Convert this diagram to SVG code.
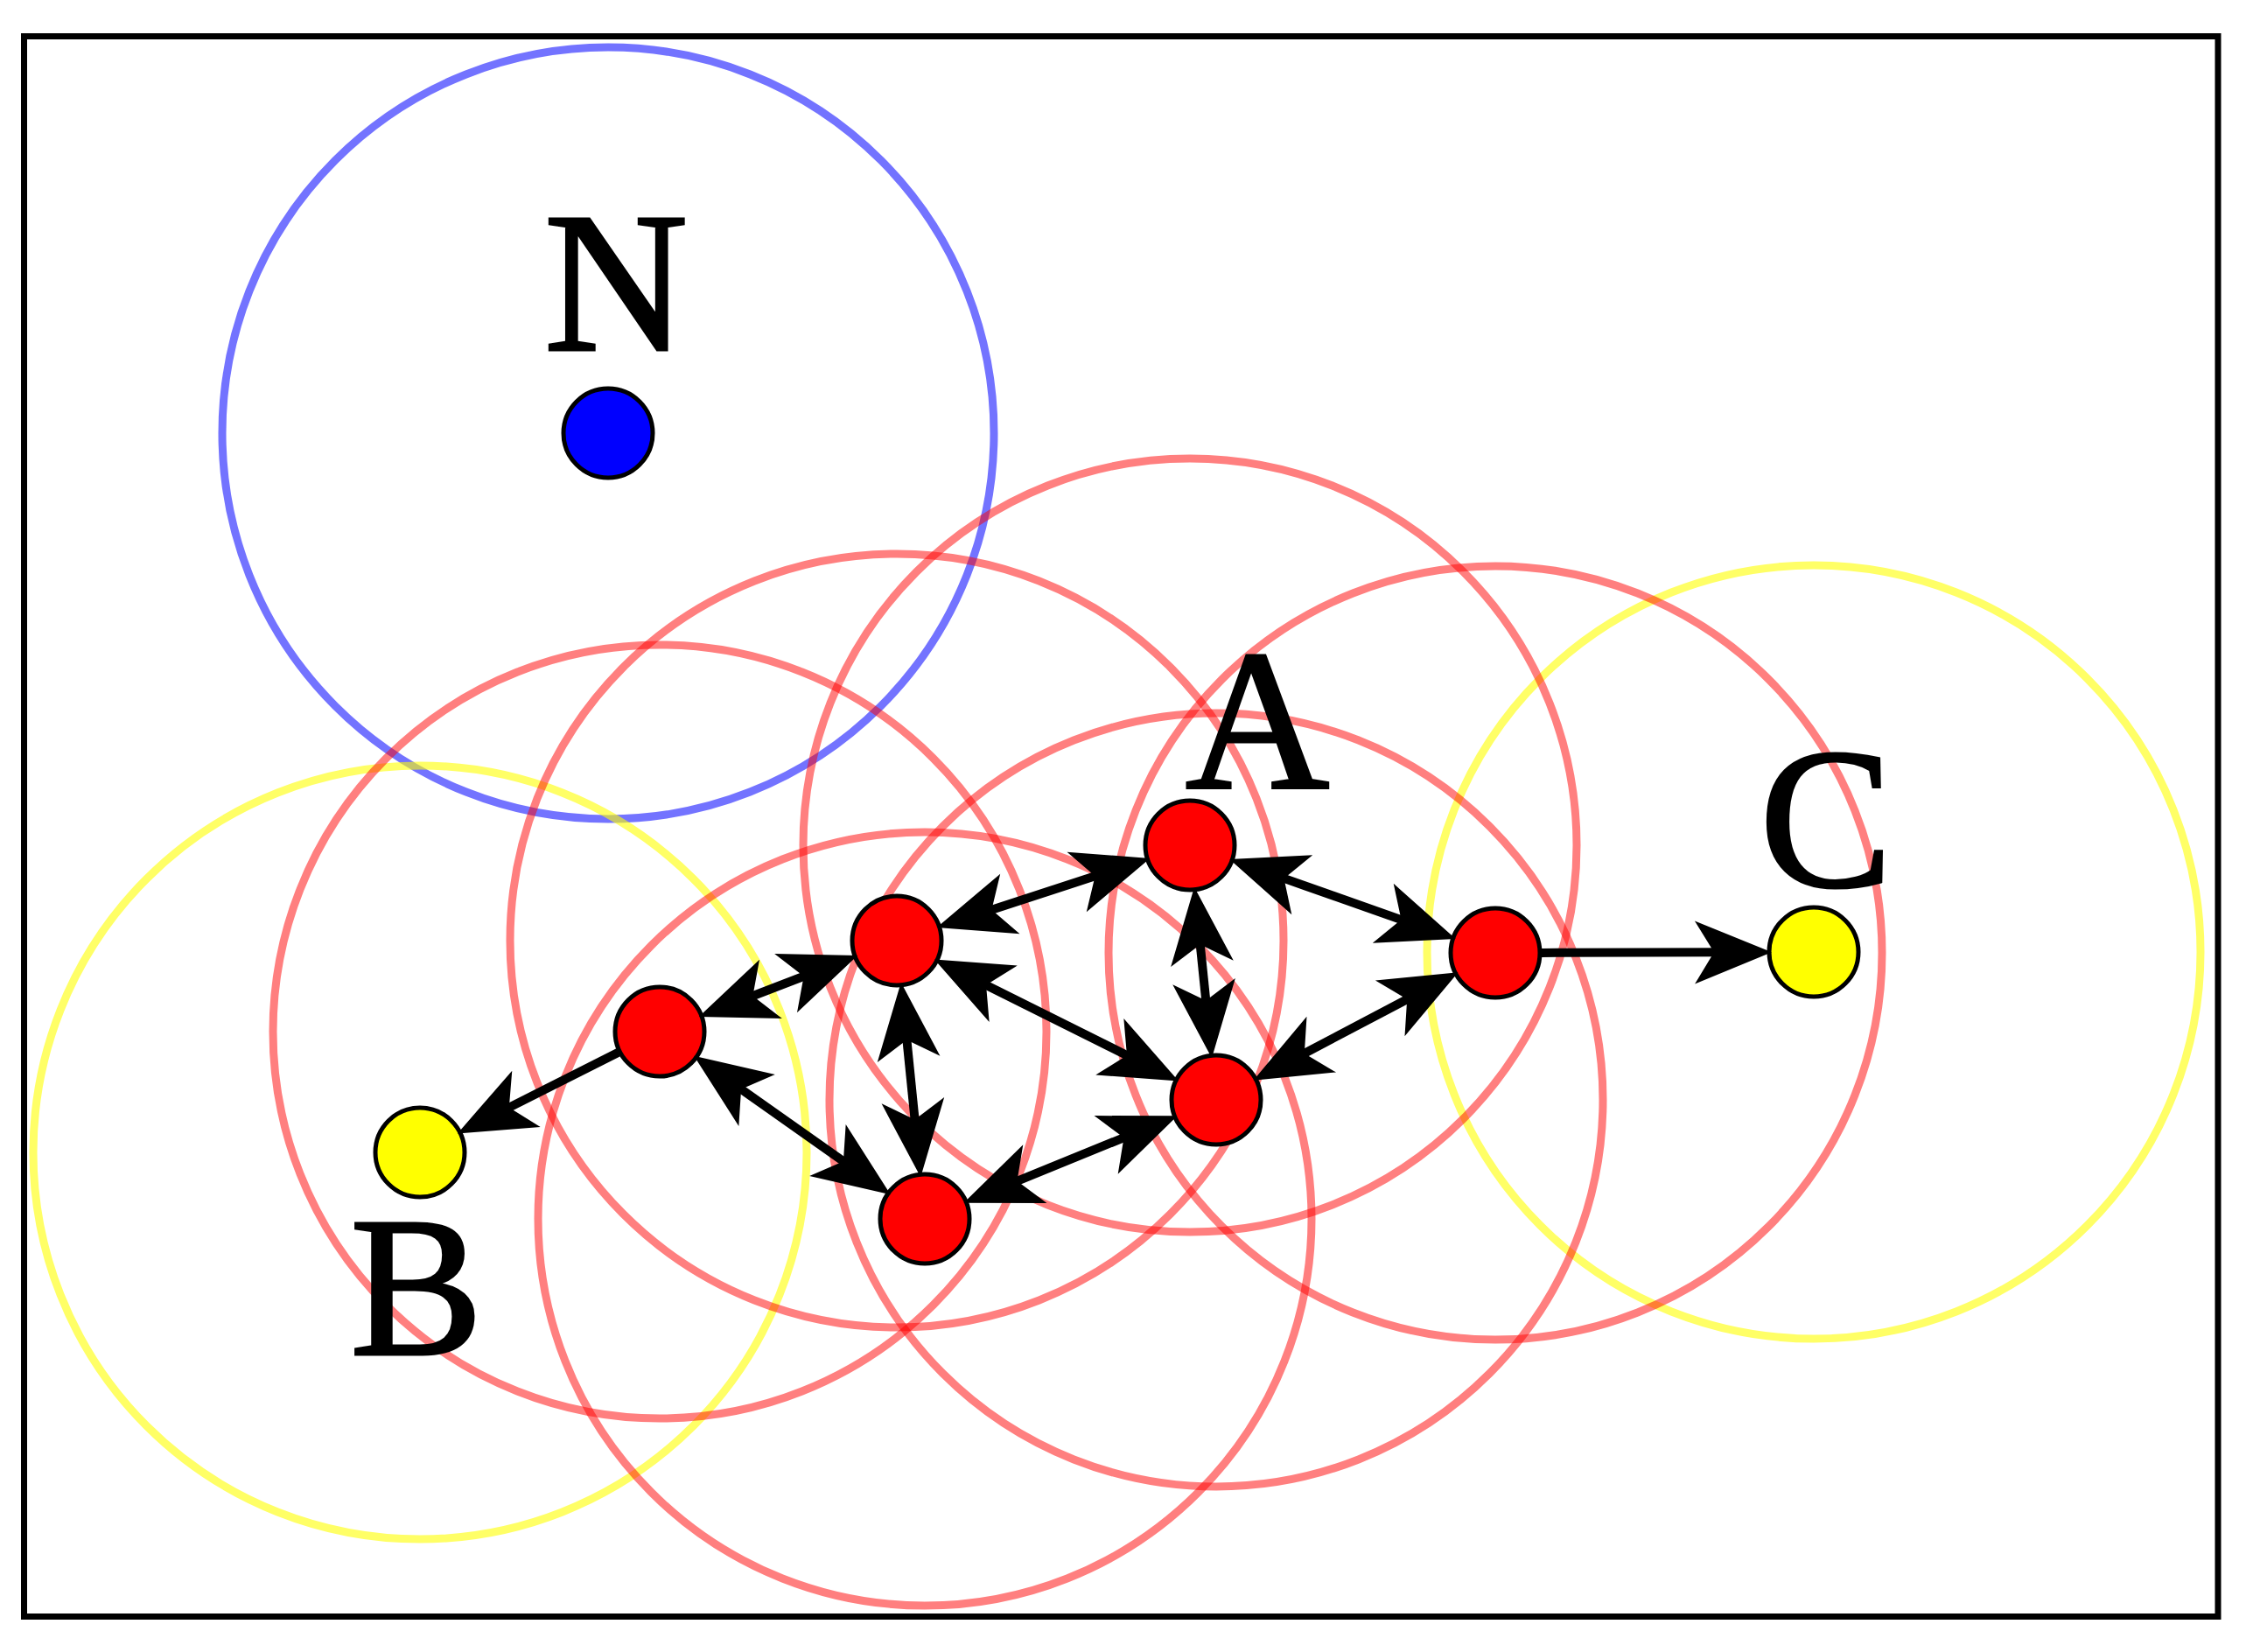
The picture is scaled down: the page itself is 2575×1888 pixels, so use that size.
<svg xmlns="http://www.w3.org/2000/svg" width="2575" height="1888" viewBox="0 0 2575 1888">
<style>
.rng{fill:none;stroke-width:9}
.rr{stroke:#ff0000;stroke-opacity:0.5}
.ry{stroke:#ffff00;stroke-opacity:0.6}
.rb{stroke:#0000ff;stroke-opacity:0.55}
.nd{stroke:#000;stroke-width:5}
.lbl{font-family:"Liberation Serif","Times New Roman",serif;font-size:228px;fill:#000;stroke:#000;stroke-width:3;text-anchor:middle}
.cn{stroke:#000;stroke-width:10;fill:none}
</style>
<defs>
<marker id="ah" markerUnits="userSpaceOnUse" markerWidth="96" markerHeight="80" viewBox="0 -40 96 80" refX="34" refY="0" orient="auto-start-reverse" overflow="visible">
<path d="M0,-36 L88,0 L0,36 L22,0 Z" fill="#000"/>
</marker>
</defs>
<rect x="0" y="0" width="2575" height="1888" fill="#fff"/>
<rect x="27.5" y="41.5" width="2507.5" height="1806" fill="none" stroke="#000" stroke-width="7"/>
<g id="ranges">
<circle class="rng rb" cx="695" cy="495" r="441"/>
<circle class="rng ry" cx="480" cy="1317" r="442"/>
<circle class="rng ry" cx="2073" cy="1088" r="442"/>
<circle class="rng rr" cx="1360" cy="966" r="442"/>
<circle class="rng rr" cx="1025" cy="1075" r="442"/>
<circle class="rng rr" cx="754" cy="1179" r="442"/>
<circle class="rng rr" cx="1057" cy="1393" r="442"/>
<circle class="rng rr" cx="1390" cy="1257" r="442"/>
<circle class="rng rr" cx="1709" cy="1089" r="442"/>
</g>
<g id="node-N"><circle class="nd" cx="695" cy="495" r="51" fill="#0000ff"/><text class="lbl" x="704" y="400">N</text></g>
<g id="node-A"><circle class="nd" cx="1360" cy="966" r="51" fill="#ff0000"/><text class="lbl" x="1437" y="900">A</text></g>
<g id="node-P2"><circle class="nd" cx="1025" cy="1075" r="51" fill="#ff0000"/></g>
<g id="node-P3"><circle class="nd" cx="754" cy="1179" r="51" fill="#ff0000"/></g>
<g id="node-P4"><circle class="nd" cx="1057" cy="1393" r="51" fill="#ff0000"/></g>
<g id="node-P5"><circle class="nd" cx="1390" cy="1257" r="51" fill="#ff0000"/></g>
<g id="node-P6"><circle class="nd" cx="1709" cy="1089" r="51" fill="#ff0000"/></g>
<g id="node-B"><circle class="nd" cx="480" cy="1317" r="51" fill="#ffff00"/><text class="lbl" x="476" y="1548">B</text></g>
<g id="node-C"><circle class="nd" cx="2073" cy="1088" r="51" fill="#ffff00"/><text class="lbl" x="2087" y="1013">C</text></g>
<g id="connectors">
<line class="cn" x1="706.7" y1="1202.8" x2="571.1" y2="1271.1" marker-end="url(#ah)"/>
<line class="cn" x1="1762" y1="1088.9" x2="1971" y2="1088.3" marker-end="url(#ah)"/>
<line class="cn" x1="849.2" y1="1142.5" x2="929.8" y2="1111.5" marker-start="url(#ah)" marker-end="url(#ah)"/>
<line class="cn" x1="1122" y1="1043.4" x2="1263" y2="997.6" marker-start="url(#ah)" marker-end="url(#ah)"/>
<line class="cn" x1="1456.2" y1="999.9" x2="1612.8" y2="1055.1" marker-start="url(#ah)" marker-end="url(#ah)"/>
<line class="cn" x1="1370.5" y1="1067.5" x2="1379.5" y2="1155.5" marker-start="url(#ah)" marker-end="url(#ah)"/>
<line class="cn" x1="1116.3" y1="1120.5" x2="1298.7" y2="1211.5" marker-start="url(#ah)" marker-end="url(#ah)"/>
<line class="cn" x1="1035.2" y1="1176.5" x2="1046.8" y2="1291.5" marker-start="url(#ah)" marker-end="url(#ah)"/>
<line class="cn" x1="837.3" y1="1237.9" x2="973.7" y2="1334.1" marker-start="url(#ah)" marker-end="url(#ah)"/>
<line class="cn" x1="1151.4" y1="1354.4" x2="1295.6" y2="1295.6" marker-start="url(#ah)" marker-end="url(#ah)"/>
<line class="cn" x1="1480.2" y1="1209.5" x2="1618.8" y2="1136.5" marker-start="url(#ah)" marker-end="url(#ah)"/>
</g>
</svg>
